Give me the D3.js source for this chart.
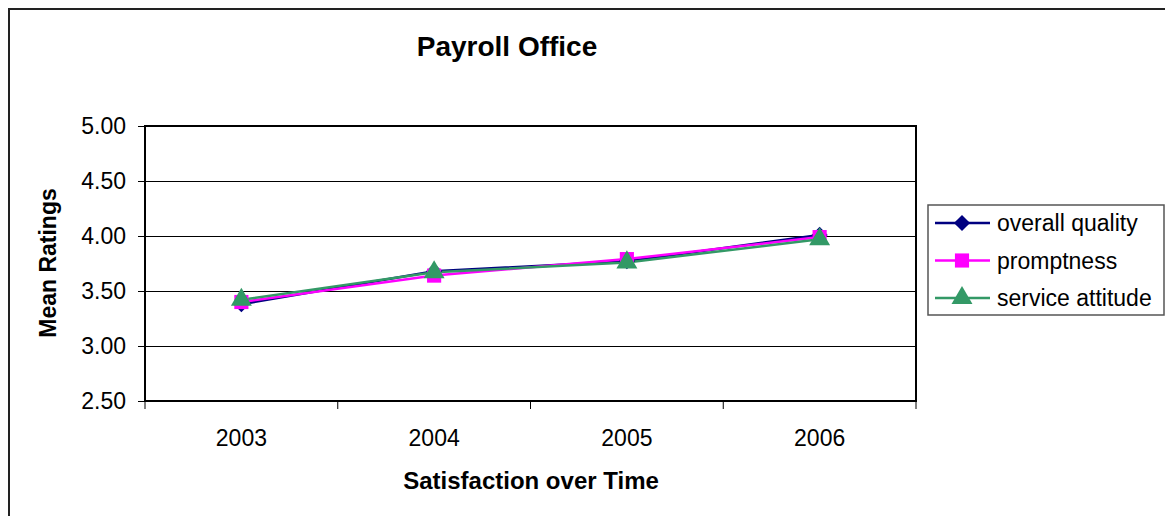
<!DOCTYPE html>
<html><head><meta charset="utf-8">
<script src="https://cdn.jsdelivr.net/npm/d3@7"></script>
<style>body{margin:0;background:#fff}svg{display:block}text{font-family:"Liberation Sans",Arial,sans-serif}</style>
</head><body>
<svg id="c" width="1165" height="516"></svg>
<script>
const categories = ["2003","2004","2005","2006"];
const seriesNames = ["overall quality","promptness","service attitude"];
const overallQuality = [3.38, 3.68, 3.77, 4.01];
const promptness = [3.40, 3.64, 3.79, 3.99];
const serviceAttitude = [3.42, 3.67, 3.76, 3.97];
const yTicks = [2.5, 3.0, 3.5, 4.0, 4.5, 5.0];
const colors = ["#000080", "#FF00FF", "#339966"];

// square diamond (square rotated 45deg)
const symbolRhomb = { draw(ctx, size){ const r = Math.sqrt(size/2); ctx.moveTo(0,-r); ctx.lineTo(r,0); ctx.lineTo(0,r); ctx.lineTo(-r,0); ctx.closePath(); } };
const symbols = [symbolRhomb, d3.symbolSquare, d3.symbolTriangle];
const symSize = [130, 200, 190];

const series = [overallQuality, promptness, serviceAttitude].map((v,i)=>({name:seriesNames[i], values:v, color:colors[i], symbol:symbols[i]}));

const svg = d3.select("#c");
const L=145, T=126, R=916, B=401;

svg.append("rect").attr("x",9).attr("y",9).attr("width",1200).attr("height",560)
  .attr("fill","none").attr("stroke","#222").attr("stroke-width",2);

const x = d3.scaleBand().domain(categories).range([L,R]);
const y = d3.scaleLinear().domain([2.5,5]).range([B,T]);

// gridlines
svg.append("g").selectAll("line").data(yTicks.filter(t=>t>2.5 && t<5)).join("line")
  .attr("x1",L).attr("x2",R).attr("y1",d=>y(d)+0.5).attr("y2",d=>y(d)+0.5)
  .attr("stroke","#000").attr("stroke-width",1);

// plot border
svg.append("rect").attr("x",L).attr("y",T).attr("width",R-L).attr("height",B-T)
  .attr("fill","none").attr("stroke","#000").attr("stroke-width",2);

// y axis
const yAxis = d3.axisLeft(y).tickValues(yTicks).tickFormat(d3.format(".2f")).tickSize(7).tickPadding(12);
const gy = svg.append("g").attr("transform",`translate(${L},0)`).call(yAxis);
gy.select(".domain").remove();
gy.selectAll("text").attr("font-size",23).attr("fill","#000").style("font-family","Liberation Sans, Arial, sans-serif");
gy.selectAll(".tick line").attr("stroke","#000");

// x axis
const xAxis = d3.axisBottom(x).tickSize(0).tickPadding(29);
const gx = svg.append("g").attr("transform",`translate(0,${B})`).call(xAxis);
gx.select(".domain").remove();
gx.selectAll("text").attr("font-size",23).attr("fill","#000").style("font-family","Liberation Sans, Arial, sans-serif");
const bounds = categories.map(c=>x(c)).concat([x(categories[categories.length-1])+x.bandwidth()]);
svg.append("g").selectAll("line").data(bounds).join("line")
  .attr("x1",d=>d).attr("x2",d=>d).attr("y1",B).attr("y2",B+8).attr("stroke","#000").attr("stroke-width",1);

const cx = c => x(c)+x.bandwidth()/2;
const line = d3.line().x((d,i)=>cx(categories[i])).y(d=>y(d));

series.forEach(s=>{
  svg.append("path").attr("d",line(s.values)).attr("fill","none").attr("stroke",s.color).attr("stroke-width",2.5);
});
series.forEach((s,si)=>{
  svg.append("g").selectAll("path").data(s.values).join("path")
    .attr("transform",(d,i)=>`translate(${cx(categories[i])},${y(d)})`)
    .attr("d",d3.symbol().type(s.symbol).size(symSize[si])).attr("fill",s.color);
});

// titles
svg.append("text").attr("x",507).attr("y",56).attr("text-anchor","middle").attr("font-size",28).attr("font-weight","bold").text("Payroll Office");
svg.append("text").attr("x",531).attr("y",489).attr("text-anchor","middle").attr("font-size",24).attr("font-weight","bold").text("Satisfaction over Time");
svg.append("text").attr("transform","translate(56,263) rotate(-90)").attr("text-anchor","middle").attr("font-size",23).attr("font-weight","bold").text("Mean Ratings");

// legend
const lg = svg.append("g");
lg.append("rect").attr("x",928).attr("y",205).attr("width",236).attr("height",110).attr("fill","#fff").attr("stroke","#555").attr("stroke-width",1.5);
series.forEach((s,i)=>{
  const yy = 223 + i*37.5;
  lg.append("line").attr("x1",935).attr("x2",990).attr("y1",yy).attr("y2",yy).attr("stroke",s.color).attr("stroke-width",2.5);
  lg.append("path").attr("transform",`translate(962,${yy})`).attr("d",d3.symbol().type(s.symbol).size(symSize[i])).attr("fill",s.color);
  lg.append("text").attr("x",997).attr("y",yy).attr("dy","0.35em").attr("font-size",23).text(s.name);
});
</script>
</body></html>
